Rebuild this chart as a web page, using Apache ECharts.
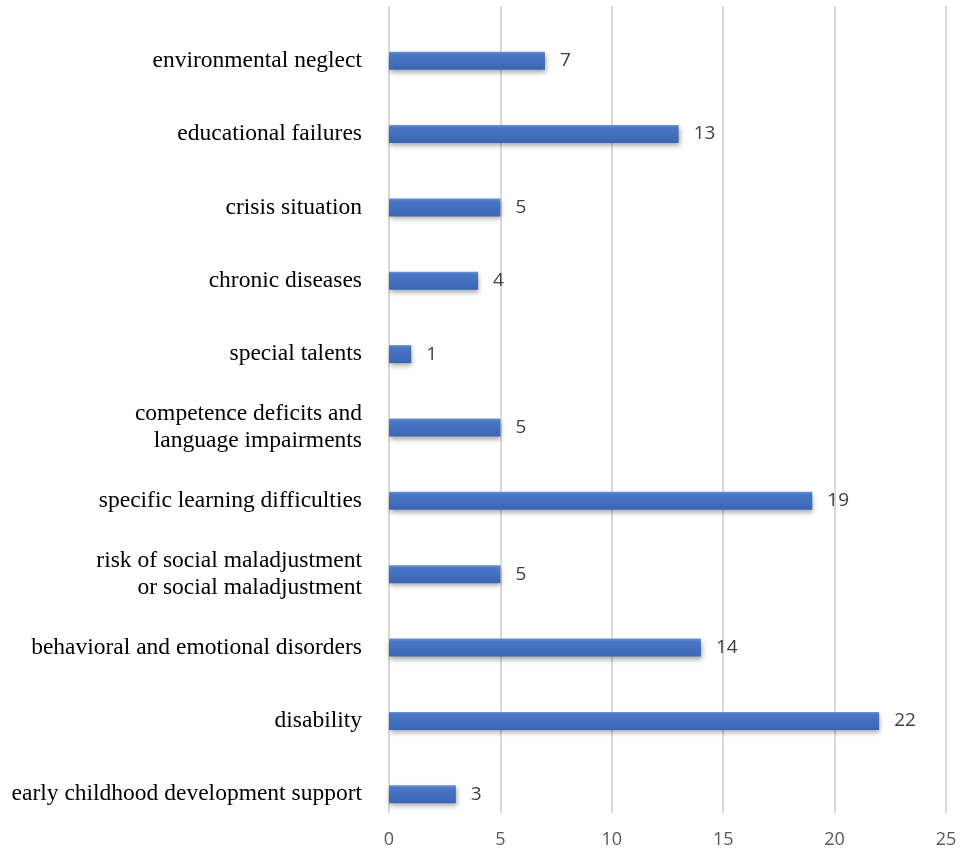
<!DOCTYPE html>
<html>
<head>
<meta charset="utf-8">
<script src="https://cdn.jsdelivr.net/npm/echarts@6/dist/echarts.min.js"></script>
<style>
  html, body { margin: 0; padding: 0; background: #ffffff; }
  #chart { width: 966px; height: 849px; }
</style>
</head>
<body>
<div id="chart"></div>
<script>
// Categories, listed from the top of the chart downwards
const categories = [
  'environmental neglect',
  'educational failures',
  'crisis situation',
  'chronic diseases',
  'special talents',
  'competence deficits and\nlanguage impairments',
  'specific learning difficulties',
  'risk of social maladjustment\nor social maladjustment',
  'behavioral and emotional disorders',
  'disability',
  'early childhood development support'
];
const counts = [7, 13, 5, 4, 1, 5, 19, 5, 14, 22, 3];
const xTicks = [0, 5, 10, 15, 20, 25];

const chart = echarts.init(document.getElementById('chart'), null, { renderer: 'canvas' });

const xMin = xTicks[0];
const xMax = xTicks[xTicks.length - 1];
const xStep = xTicks[1] - xTicks[0];

chart.setOption({
  animation: false,
  backgroundColor: '#ffffff',
  grid: [
    // gridlines and tick labels
    { left: 389, right: 20, top: 6, bottom: 36 },
    // bars and category labels
    { left: 389, right: 20, top: 24, bottom: 18 }
  ],
  xAxis: [
    {
      gridIndex: 0,
      type: 'value',
      min: xMin,
      max: xMax,
      interval: xStep,
      axisLine: { show: false },
      axisTick: { show: false },
      splitLine: { show: true, lineStyle: { color: '#d9d9d9', width: 2 } },
      axisLabel: {
        margin: 18,
        color: '#595959',
        fontFamily: 'Open Sans',
        fontSize: 18
      }
    },
    {
      gridIndex: 1,
      type: 'value',
      min: xMin,
      max: xMax,
      show: false,
      splitLine: { show: false }
    }
  ],
  yAxis: [
    {
      gridIndex: 0,
      type: 'category',
      data: categories,
      show: false
    },
    {
      gridIndex: 1,
      type: 'category',
      data: categories,
      inverse: true,
      axisLine: { show: false },
      axisTick: { show: false },
      splitLine: { show: false },
      axisLabel: {
        margin: 27,
        color: '#000000',
        fontFamily: 'Liberation Serif',
        fontSize: 23.5,
        lineHeight: 27,
        align: 'right'
      }
    }
  ],
  series: [
    {
      type: 'bar',
      xAxisIndex: 1,
      yAxisIndex: 1,
      data: counts,
      barWidth: 18,
      itemStyle: {
        color: new echarts.graphic.LinearGradient(0, 0, 0, 1, [
          { offset: 0, color: '#6890d5' },
          { offset: 0.15, color: '#4a77c6' },
          { offset: 1, color: '#3a65b4' }
        ]),
        shadowColor: 'rgba(0,0,0,0.35)',
        shadowBlur: 5,
        shadowOffsetX: 1,
        shadowOffsetY: 3
      },
      label: {
        show: true,
        position: 'right',
        distance: 15,
        color: '#404040',
        fontFamily: 'Open Sans',
        fontSize: 19
      }
    }
  ]
});
</script>
</body>
</html>
